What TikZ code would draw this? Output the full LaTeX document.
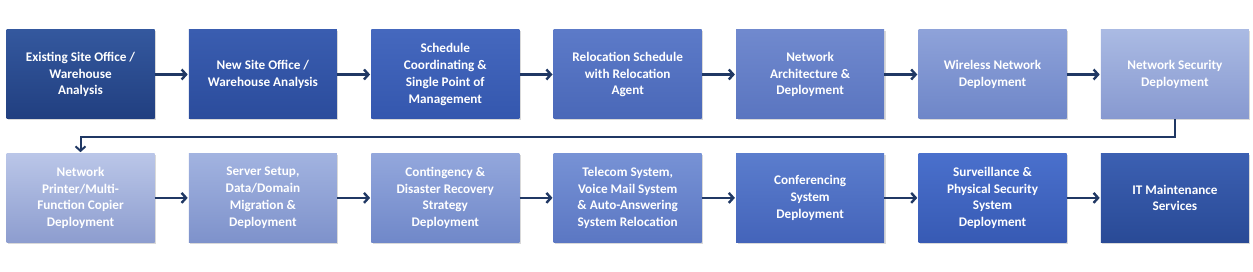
\documentclass[tikz,border=0pt]{standalone}
\usepackage{fontspec}
\setmainfont{Carlito}
\usepackage{tikz}
\usetikzlibrary{positioning,arrows.meta,shadows}

\definecolor{navyline}{HTML}{203864}
\definecolor{cAt}{HTML}{34589E}\definecolor{cAb}{HTML}{213F80}
\definecolor{cBt}{HTML}{3A5DB0}\definecolor{cBb}{HTML}{2B4C9C}
\definecolor{cCt}{HTML}{4568BE}\definecolor{cCb}{HTML}{3457AE}
\definecolor{cDt}{HTML}{5C7AC8}\definecolor{cDb}{HTML}{4A68B8}
\definecolor{cEt}{HTML}{7089CE}\definecolor{cEb}{HTML}{5A75C0}
\definecolor{cFt}{HTML}{8EA2D9}\definecolor{cFb}{HTML}{6E86C8}
\definecolor{cGt}{HTML}{AABAE3}\definecolor{cGb}{HTML}{8799D0}
\definecolor{cHt}{HTML}{BAC6E8}\definecolor{cHb}{HTML}{8D9DCF}
\definecolor{cIt}{HTML}{A2B3E0}\definecolor{cIb}{HTML}{7E92CB}
\definecolor{cJt}{HTML}{93A7DC}\definecolor{cJb}{HTML}{7088C9}
\definecolor{cKt}{HTML}{7792D5}\definecolor{cKb}{HTML}{5B77C3}
\definecolor{cLt}{HTML}{5B7DCD}\definecolor{cLb}{HTML}{4464BA}
\definecolor{cMt}{HTML}{4A70CC}\definecolor{cMb}{HTML}{375AB4}
\definecolor{cNt}{HTML}{3C60B2}\definecolor{cNb}{HTML}{294A96}

\tikzset{
  stepbox/.style 2 args={shade, top color=#1, bottom color=#2, minimum width=148pt,
    minimum height=89pt, align=center, text=white,
    font=\bfseries\fontsize{13.2}{16.8}\selectfont,
    drop shadow={shadow xshift=1.5pt, shadow yshift=-1.5pt, opacity=0.3}},
  flow/.style={navyline, line width=2.4pt, -{Straight Barb[length=4.5pt,width=10pt]}, shorten >=1pt}
}

\begin{document}
\begin{tikzpicture}[x=1pt,y=1pt]
\useasboundingbox (0,0) rectangle (1253,272);

% top row
\node[stepbox={cAt}{cAb}] (b1) at (80.5,197.5) {Existing Site Office /\\Warehouse\\Analysis};
\node[stepbox={cBt}{cBb}, right=34pt of b1] (b2) {New Site Office /\\Warehouse Analysis};
\node[stepbox={cCt}{cCb}, right=34pt of b2] (b3) {Schedule\\Coordinating \&\\Single Point of\\Management};
\node[stepbox={cDt}{cDb}, right=34pt of b3] (b4) {Relocation Schedule\\with Relocation\\Agent};
\node[stepbox={cEt}{cEb}, right=34pt of b4] (b5) {Network\\Architecture \&\\Deployment};
\node[stepbox={cFt}{cFb}, right=34pt of b5] (b6) {Wireless Network\\Deployment};
\node[stepbox={cGt}{cGb}, right=34pt of b6] (b7) {Network Security\\Deployment};

% bottom row
\node[stepbox={cHt}{cHb}, below=34pt of b1] (b8) {Network\\Printer/Multi-\\Function Copier\\Deployment};
\node[stepbox={cIt}{cIb}, right=34pt of b8] (b9) {Server Setup,\\Data/Domain\\Migration \&\\Deployment};
\node[stepbox={cJt}{cJb}, right=34pt of b9] (b10) {Contingency \&\\Disaster Recovery\\Strategy\\Deployment};
\node[stepbox={cKt}{cKb}, right=34pt of b10] (b11) {Telecom System,\\Voice Mail System\\\& Auto-Answering\\System Relocation};
\node[stepbox={cLt}{cLb}, right=34pt of b11] (b12) {Conferencing\\System\\Deployment};
\node[stepbox={cMt}{cMb}, right=34pt of b12] (b13) {Surveillance \&\\Physical Security\\System\\Deployment};
\node[stepbox={cNt}{cNb}, right=34pt of b13] (b14) {IT Maintenance\\Services};

% arrows
\draw[flow] (b1) -- (b2);
\draw[flow] (b2) -- (b3);
\draw[flow] (b3) -- (b4);
\draw[flow] (b4) -- (b5);
\draw[flow] (b5) -- (b6);
\draw[flow] (b6) -- (b7);
\draw[flow, line width=2pt] (b7.south) -- ++(0,-18) -| (b8.north);
\draw[flow] (b8) -- (b9);
\draw[flow] (b9) -- (b10);
\draw[flow] (b10) -- (b11);
\draw[flow] (b11) -- (b12);
\draw[flow] (b12) -- (b13);
\draw[flow] (b13) -- (b14);
\end{tikzpicture}
\end{document}
